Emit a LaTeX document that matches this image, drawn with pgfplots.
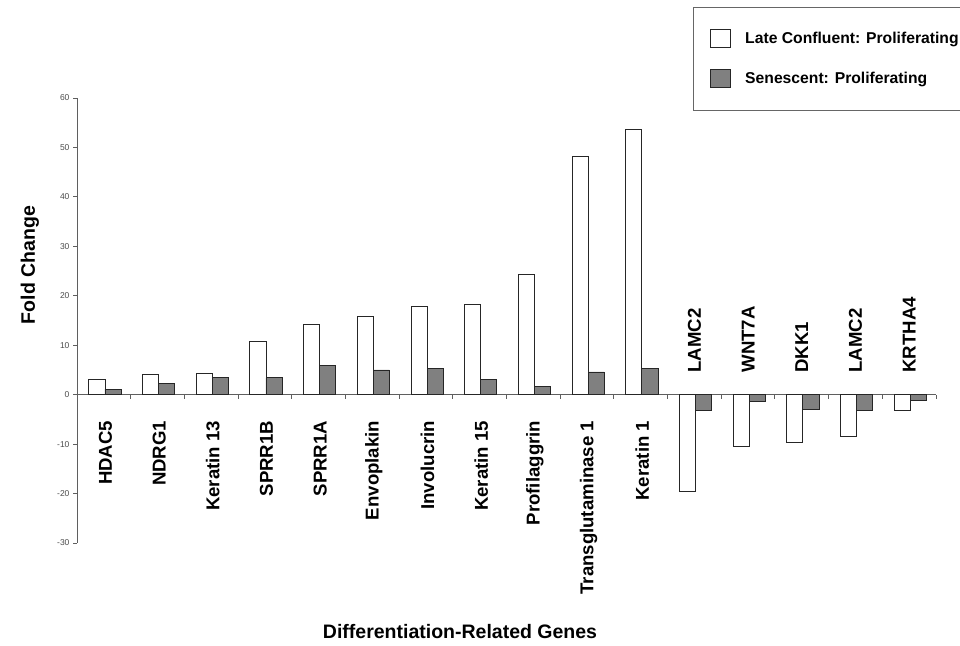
\documentclass[border=0pt]{standalone}
\usepackage{pgfplots}
\pgfplotsset{compat=1.18}
\usepackage{fontspec}
\setmainfont{Liberation Sans}
\definecolor{bargray}{RGB}{128,128,128}
\definecolor{axgray}{RGB}{95,95,95}
\begin{document}
\begin{tikzpicture}
\path[use as bounding box] (0pt,0pt) rectangle (960pt,645pt);
\begin{axis}[
  at={(77pt,102pt)}, anchor=south west,
  scale only axis, width=859pt, height=445pt,
  xmin=0, xmax=16, ymin=-30, ymax=60,
  axis x line=middle, axis y line=left,
  axis line style={-, draw=axgray, line width=0.9pt},
  xtick={1,...,16}, xticklabels={},
  ytick={-30,-20,...,60},
  yticklabel style={font=\fontsize{8.5}{10}\selectfont, text=black!70},
  /pgf/number format/assume math mode=true,
  tick style={draw=axgray, line width=0.9pt},
  major tick length=4pt,
  tick align=outside,
  clip=false,
  ybar, bar width=0.3,
  legend style={at={(693pt-77pt,645pt-7pt-102pt)}, anchor=north west,
    draw=black!60, line width=0.8pt, font=\fontsize{15.7}{18}\bfseries\selectfont,
    inner xsep=17pt, inner ysep=22pt, row sep=21pt, cells={anchor=west},
    /tikz/every odd column/.append style={column sep=12pt}},
  legend image code/.code={\draw[#1, bar shift=0pt] (0pt,-9pt) rectangle (20pt,9pt);},
]
\addplot[fill=white, draw=black!85, line width=0.8pt, bar shift=0pt] coordinates {
 (0.37,3.0) (1.37,4.0) (2.37,4.4) (3.37,10.8) (4.37,14.2) (5.37,15.8)
 (6.37,17.9) (7.37,18.2) (8.37,24.3) (9.37,48.2) (10.37,53.7)
 (11.37,-19.6) (12.37,-10.4) (13.37,-9.7) (14.37,-8.4) (15.37,-3.1)};
\addlegendentry{Late Confluent: Proliferating}
\addplot[fill=bargray, draw=black!85, line width=0.8pt, bar shift=0pt] coordinates {
 (0.67,1.1) (1.67,2.3) (2.67,3.4) (3.67,3.4) (4.67,6.0) (5.67,5.0)
 (6.67,5.3) (7.67,3.0) (8.67,1.7) (9.67,4.6) (10.67,5.3)
 (11.67,-3.1) (12.67,-1.3) (13.67,-3.0) (14.67,-3.1) (15.67,-1.2)};
\addlegendentry{Senescent: Proliferating}
\foreach \i/\name in {0/HDAC5,1/NDRG1,2/Keratin 13,3/SPRR1B,4/SPRR1A,5/Envoplakin,6/Involucrin,7/Keratin 15,8/Profilaggrin,9/Transglutaminase 1,10/Keratin 1}{
  \edef\temp{\noexpand\node[rotate=90, anchor=east, inner sep=0pt, font=\noexpand\fontsize{18.6}{20}\noexpand\bfseries\noexpand\selectfont] at ([yshift=-26pt]axis cs:\i+0.53,0) {\name};}
  \temp
}
\foreach \i/\name in {11/LAMC2,12/WNT7A,13/DKK1,14/LAMC2,15/KRTHA4}{
  \edef\temp{\noexpand\node[rotate=90, anchor=west, inner sep=0pt, font=\noexpand\fontsize{18.6}{20}\noexpand\bfseries\noexpand\selectfont] at ([yshift=22pt]axis cs:\i+0.5,0) {\name};}
  \temp
}
\end{axis}
\node[rotate=90, font=\fontsize{19.5}{21}\bfseries\selectfont] at (30pt,380pt) {Fold Change};
\node[font=\fontsize{19.5}{21}\bfseries\selectfont] at (460pt,13pt) {Differentiation-Related Genes};
\end{tikzpicture}
\end{document}
